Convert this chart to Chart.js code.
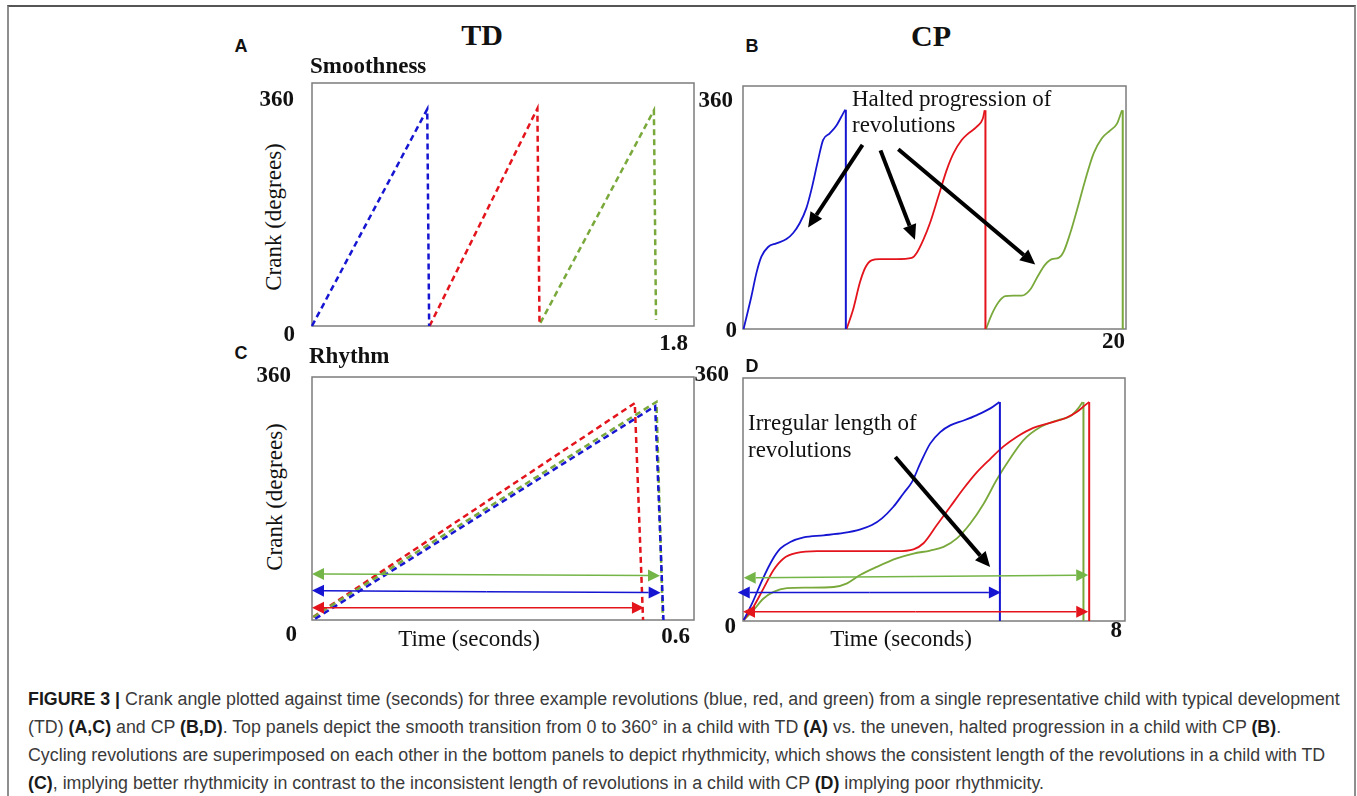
<!DOCTYPE html>
<html>
<head>
<meta charset="utf-8">
<script src="https://cdn.jsdelivr.net/npm/chart.js@4.4.0/dist/chart.umd.min.js"></script>
<style>
    body { margin: 0; background: #fff; width: 1357px; height: 796px; overflow: hidden; position: relative; font-family: 'Liberation Serif', 'Times New Roman', serif; color: #111; }
    .frame { position: absolute; left: 7px; top: 5px; width: 1345px; height: 830px; border: 2px solid #8e8e8e; border-top-color: #555; }
    canvas { position: absolute; }
    .t { position: absolute; white-space: nowrap; line-height: 1; }
    .l { transform: translateY(-50%); }
    .r { transform: translate(-100%, -50%); }
    .c { transform: translate(-50%, -50%); }
    .big { font-size: 30px; font-weight: bold; }
    .letter { font-family: 'Liberation Sans', Arial, sans-serif; font-weight: bold; font-size: 18px; }
    .sub { font-size: 23px; font-weight: bold; }
    .num { font-size: 23px; font-weight: bold; }
    .axis { font-size: 23px; }
    .rot { transform: translate(-50%, -50%) rotate(-90deg); }
    .note { position: absolute; font-size: 23px; white-space: nowrap; }
    .cap { position: absolute; left: 28px; white-space: nowrap; line-height: 1; font-family: 'Liberation Sans', Arial, sans-serif; font-size: 18px; color: #3a3a3a; transform-origin: 0 50%; }
    .cap b { color: #1a1a1a; }
</style>
</head>
<body>
<div class="frame"></div>

<canvas id="panelA" width="422" height="283" style="left:292px; top:63px;"></canvas>
<canvas id="panelB" width="423" height="283" style="left:723px; top:66px;"></canvas>
<canvas id="panelC" width="422" height="283" style="left:292px; top:357px;"></canvas>
<canvas id="panelD" width="422" height="283" style="left:723px; top:358px;"></canvas>

<!-- headings -->
<div class="t c big" style="left:482px; top:35px;">TD</div>
<div class="t c big" style="left:931px; top:36px;">CP</div>
<div class="t c letter" style="left:241px; top:46px;">A</div>
<div class="t c letter" style="left:752px; top:46px;">B</div>
<div class="t c letter" style="left:241px; top:353px;">C</div>
<div class="t c letter" style="left:752px; top:366px;">D</div>
<div class="t l sub" style="left:310px; top:65px;">Smoothness</div>
<div class="t l sub" style="left:309px; top:355px;">Rhythm</div>

<!-- tick labels (text filled from the arrays below) -->
<div class="t r num ytop" style="left:294px; top:98px;"></div>
<div class="t r num ybot" style="left:295px; top:333px;"></div>
<div class="t r num ytop" style="left:733px; top:99px;"></div>
<div class="t r num ybot" style="left:737px; top:329px;"></div>
<div class="t r num ytop" style="left:291px; top:374px;"></div>
<div class="t r num ybot" style="left:297px; top:633px;"></div>
<div class="t r num ytop" style="left:729px; top:373px;"></div>
<div class="t r num ybot" style="left:736px; top:625px;"></div>
<div class="t r num xend" style="left:688px; top:342px;"></div>
<div class="t r num xend" style="left:1125px; top:340px;"></div>
<div class="t r num xend" style="left:690px; top:635px;"></div>
<div class="t r num xend" style="left:1122px; top:629px;"></div>

<!-- axis titles -->
<div class="t rot axis" style="left:273px; top:217px;">Crank (degrees)</div>
<div class="t rot axis" style="left:274px; top:497px;">Crank (degrees)</div>
<div class="t c axis" style="left:469px; top:638px;">Time (seconds)</div>
<div class="t c axis" style="left:901px; top:638px;">Time (seconds)</div>

<!-- annotations -->
<div class="note" style="left:852px; top:86px; line-height:26px;">Halted progression of<br>revolutions</div>
<div class="note" style="left:748px; top:409px; line-height:27px;">Irregular length of<br>revolutions</div>

<!-- caption -->
<div class="cap" style="top:699px;"><b>FIGURE 3 |</b> Crank angle plotted against time (seconds) for three example revolutions (blue, red, and green) from a single representative child with typical development</div>
<div class="cap" style="top:727px;">(TD) <b>(A,C)</b> and CP <b>(B,D)</b>. Top panels depict the smooth transition from 0 to 360° in a child with TD <b>(A)</b> vs. the uneven, halted progression in a child with CP <b>(B)</b>.</div>
<div class="cap" style="top:755px;">Cycling revolutions are superimposed on each other in the bottom panels to depict rhythmicity, which shows the consistent length of the revolutions in a child with TD</div>
<div class="cap" style="top:783px;"><b>(C)</b>, implying better rhythmicity in contrast to the inconsistent length of revolutions in a child with CP <b>(D)</b> implying poor rhythmicity.</div>

<script>
// Axis extents and tick labels
const yTickLabels = ['0', '360'];
const xEndLabels = ['1.8', '20', '0.6', '8'];
const xMaxes = [1.8, 20, 0.6, 8];
const yMax = 400;

// A - TD smoothness, [time s, crank deg]
const tdBlue = [[0, 0], [0.543, 357], [0.552, 0]];
const tdRed = [[0.554, 0], [1.062, 358], [1.072, 5]];
const tdGreen = [[1.076, 5], [1.611, 355], [1.621, 10]];

// B - CP smoothness
const cpBlue = [[0.03, 0], [0.44, 54], [0.70, 92], [0.96, 119], [1.31, 135], [1.74, 141], [2.27, 148], [2.62, 158], [2.96, 174], [3.31, 199], [3.57, 229], [3.92, 278], [4.18, 311], [4.53, 322], [4.88, 335], [5.23, 355], [5.34, 361]];
const cpBlueDrop = [[5.37, 361], [5.37, 0]];
const cpRed = [[5.41, 0], [5.75, 32], [6.10, 76], [6.37, 100], [6.71, 113], [7.15, 115], [8.02, 115], [8.81, 117], [9.07, 125], [9.42, 147], [9.76, 174], [10.20, 218], [10.64, 262], [10.99, 289], [11.42, 311], [11.77, 322], [12.21, 333], [12.52, 346], [12.62, 360]];
const cpRedDrop = [[12.66, 360], [12.66, 0]];
const cpGreen = [[12.69, 0], [12.99, 24], [13.34, 44], [13.69, 54], [14.12, 55], [14.56, 55], [15.00, 65], [15.43, 89], [15.78, 106], [16.13, 115], [16.48, 117], [16.74, 127], [17.09, 158], [17.44, 196], [17.87, 245], [18.31, 289], [18.74, 314], [19.18, 327], [19.53, 338], [19.79, 360]];
const cpGreenDrop = [[19.83, 360], [19.83, 0]];
// black arrows [x0, y0, x1, y1]
const haltArrows = [[6.24, 303, 3.40, 167], [7.18, 294, 8.98, 147], [8.11, 296, 15.26, 106]];

// C - TD rhythm
const rhBlue = [[0.005, 2], [0.539, 352], [0.552, 0]];
const rhGreen = [[0.002, 5], [0.541, 359], [0.551, 3]];
const rhRed = [[0.002, 5], [0.507, 357], [0.520, 0]];
const rhSpans = [[0, 75.8, 0.5466, 73], [0, 48.4, 0.5476, 45], [0, 20.3, 0.5214, 20.3]];

// D - CP rhythm
const irBlue = [[0.014, 1.6], [0.19, 29], [0.40, 67], [0.61, 100], [0.78, 119], [0.99, 130], [1.27, 137.5], [1.69, 141], [2.11, 145], [2.46, 151], [2.70, 158], [2.91, 169], [3.15, 188], [3.36, 210], [3.54, 229], [3.71, 259], [3.92, 292], [4.13, 311], [4.34, 322], [4.62, 330], [4.90, 339], [5.18, 350], [5.37, 360.5]];
const irBlueDrop = [[5.38, 360.5], [5.38, 0]];
const irRed = [[0.014, 1.6], [0.22, 23.6], [0.43, 53.7], [0.64, 84], [0.85, 103], [1.13, 112], [1.55, 115], [2.39, 115], [3.22, 115], [3.57, 118], [3.78, 128], [4.06, 158], [4.34, 188], [4.62, 218], [4.90, 245], [5.18, 267], [5.45, 287], [5.73, 303], [6.08, 318], [6.43, 326], [6.78, 335], [6.99, 344], [7.16, 355], [7.25, 360.5]];
const irRedDrop = [[7.25, 360.5], [7.25, 0]];
const irGreen = [[0.014, 1.6], [0.22, 18], [0.43, 37], [0.64, 48], [0.92, 54], [1.34, 55], [1.90, 56], [2.18, 62], [2.46, 76], [2.80, 89], [3.22, 103], [3.57, 111], [3.92, 116], [4.20, 122], [4.48, 136], [4.76, 160.5], [5.04, 193], [5.31, 232], [5.59, 267], [5.87, 297.5], [6.22, 319], [6.57, 330], [6.85, 337], [7.02, 350], [7.11, 360.5]];
const irGreenDrop = [[7.13, 360.5], [7.13, 0]];
const irArrows = [[3.19, 270, 5.175, 89]];
const irSpans = [[0.014, 71.2, 7.23, 75.6], [-0.11, 47, 5.40, 47], [0, 15.3, 7.23, 15.3]];

const BLUE = '#1616d2';
const RED = '#e3141c';
const GREEN = '#79a83b';
const SPAN_GREEN = '#74b548';
const PAD = 20;

const pts = arr => arr.map(([x, y]) => ({ x, y }));

// dashed straight revolution
const dashed = (data, color) => ({
    data: pts(data), borderColor: color, borderWidth: 2.5, borderDash: [6, 4], tension: 0, clip: 6
});
// smooth recorded revolution
const smooth = (data, color) => ({
    data: pts(data), borderColor: color, borderWidth: 1.8, cubicInterpolationMode: 'monotone', clip: 6
});
const drop = (data, color) => ({
    data: pts(data), borderColor: color, borderWidth: 2, tension: 0, clip: 6
});

// arrow with filled head at (x1, y1)
const arrowTo = (ctx, x0, y0, x1, y1, len, half) => {
    const a = Math.atan2(y1 - y0, x1 - x0);
    const bx = x1 - len * Math.cos(a);
    const by = y1 - len * Math.sin(a);
    ctx.beginPath();
    ctx.moveTo(x0, y0);
    ctx.lineTo(bx, by);
    ctx.stroke();
    ctx.beginPath();
    ctx.moveTo(x1, y1);
    ctx.lineTo(bx + half * Math.sin(a), by - half * Math.cos(a));
    ctx.lineTo(bx - half * Math.sin(a), by + half * Math.cos(a));
    ctx.closePath();
    ctx.fill();
};

// box around the plot area
const frameBox = {
    id: 'frameBox',
    beforeDatasetsDraw(chart) {
        const { ctx, chartArea: a } = chart;
        ctx.save();
        ctx.strokeStyle = '#7c7c7c';
        ctx.lineWidth = 1.5;
        ctx.strokeRect(a.left, a.top, a.right - a.left, a.bottom - a.top);
        ctx.restore();
    }
};

// black pointers and coloured double-headed span arrows
const arrowLayer = (pointers, spans) => ({
    id: 'arrowLayer',
    afterDatasetsDraw(chart) {
        const { ctx, scales: { x, y } } = chart;
        ctx.save();
        const spanColors = [SPAN_GREEN, BLUE, RED];
        spans.forEach(([x0, y0, x1, y1], i) => {
            const p0 = [x.getPixelForValue(x0), y.getPixelForValue(y0)];
            const p1 = [x.getPixelForValue(x1), y.getPixelForValue(y1)];
            const mx = (p0[0] + p1[0]) / 2, my = (p0[1] + p1[1]) / 2;
            ctx.strokeStyle = spanColors[i];
            ctx.fillStyle = spanColors[i];
            ctx.lineWidth = 1.5;
            arrowTo(ctx, mx, my, p1[0], p1[1], 12, 6);
            arrowTo(ctx, mx, my, p0[0], p0[1], 12, 6);
        });
        ctx.strokeStyle = '#000';
        ctx.fillStyle = '#000';
        ctx.lineWidth = 4;
        pointers.forEach(([x0, y0, x1, y1]) => {
            arrowTo(ctx, x.getPixelForValue(x0), y.getPixelForValue(y0),
                x.getPixelForValue(x1), y.getPixelForValue(y1), 15, 7);
        });
        ctx.restore();
    }
});

const makePanel = (id, xMax, datasets, pointers, spans) => {
    new Chart(document.getElementById(id), {
        type: 'line',
        data: { datasets },
        options: {
            responsive: false,
            animation: false,
            devicePixelRatio: 1,
            layout: { padding: PAD },
            elements: { point: { radius: 0 } },
            plugins: { legend: { display: false }, tooltip: { enabled: false } },
            scales: {
                x: { type: 'linear', min: 0, max: xMax, display: false },
                y: { type: 'linear', min: 0, max: yMax, display: false }
            }
        },
        plugins: [frameBox, arrowLayer(pointers, spans)]
    });
};

document.querySelectorAll('.ybot').forEach(el => el.textContent = yTickLabels[0]);
document.querySelectorAll('.ytop').forEach(el => el.textContent = yTickLabels[1]);
document.querySelectorAll('.xend').forEach((el, i) => el.textContent = xEndLabels[i]);

makePanel('panelA', xMaxes[0], [
    dashed(tdBlue, BLUE), dashed(tdRed, RED), dashed(tdGreen, GREEN)
], [], []);

makePanel('panelB', xMaxes[1], [
    smooth(cpBlue, BLUE), drop(cpBlueDrop, BLUE),
    smooth(cpRed, RED), drop(cpRedDrop, RED),
    smooth(cpGreen, GREEN), drop(cpGreenDrop, GREEN)
], haltArrows, []);

makePanel('panelC', xMaxes[2], [
    dashed(rhBlue, BLUE), dashed(rhGreen, GREEN), dashed(rhRed, RED)
], [], rhSpans);

makePanel('panelD', xMaxes[3], [
    smooth(irBlue, BLUE), drop(irBlueDrop, BLUE),
    smooth(irRed, RED), drop(irRedDrop, RED),
    smooth(irGreen, GREEN), drop(irGreenDrop, GREEN)
], irArrows, irSpans);

// squeeze caption lines to the reference line length
const caps = document.querySelectorAll('.cap');
const k = (1340 - 28) / caps[0].scrollWidth;
caps.forEach(el => el.style.transform = `translateY(-50%) scaleX(${k})`);
</script>
</body>
</html>
